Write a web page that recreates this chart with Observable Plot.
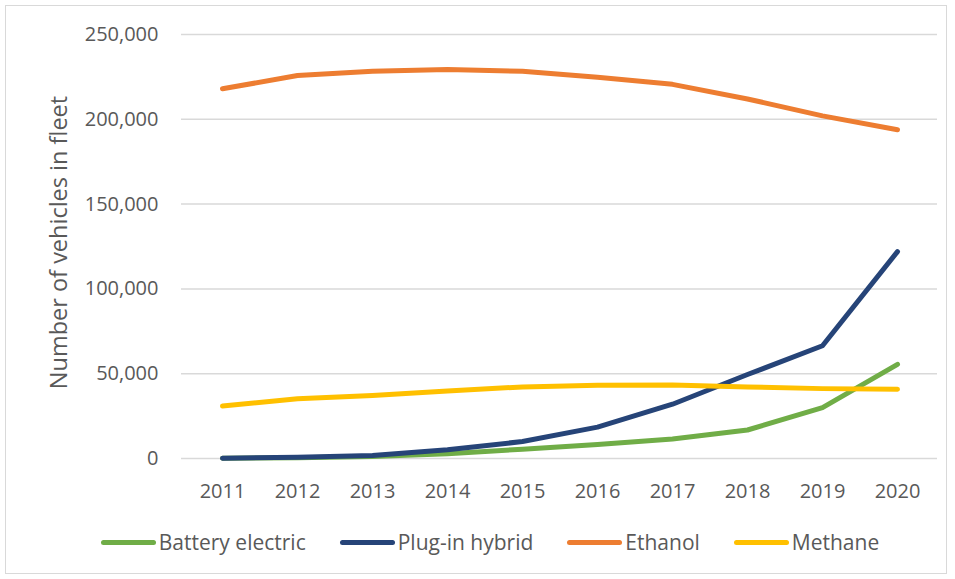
<!DOCTYPE html>
<html>
<head>
<meta charset="utf-8">
<script src="https://cdn.jsdelivr.net/npm/d3@7"></script>
<script src="https://cdn.jsdelivr.net/npm/@observablehq/plot@0.6"></script>
<style>
  html, body { margin: 0; padding: 0; background: #fff; }
  #wrap { position: relative; width: 955px; height: 579px; overflow: hidden; font-family: "Open Sans", sans-serif; }
  #border { position: absolute; left: 5px; top: 5px; width: 942px; height: 569px; border: 1px solid #d9d9d9; box-sizing: border-box; }
  #chart { position: absolute; left: 0; top: 0; }
  #legend { position: absolute; left: 0; top: 528px; width: 955px; display: flex; justify-content: center; padding-left: 25px; box-sizing: border-box; gap: 34px; }
  .item { display: flex; align-items: center; font-size: 21px; color: #595959; }
  .sw { width: 55px; height: 5px; border-radius: 3px; margin-right: 3px; }
</style>
</head>
<body>
<div id="wrap">
  <div id="border"></div>
  <div id="chart"></div>
  <div id="legend"></div>
</div>
<script>
const years = [2011, 2012, 2013, 2014, 2015, 2016, 2017, 2018, 2019, 2020];
const seriesNames = ["Battery electric", "Plug-in hybrid", "Ethanol", "Methane"];
const seriesColors = ["#70AD47", "#264478", "#ED7D31", "#FFC000"];
const batteryElectric = [200, 500, 1200, 2800, 5500, 8300, 11500, 16800, 30000, 55500];
const plugInHybrid = [200, 800, 1800, 5200, 10000, 18500, 32000, 49500, 66500, 122000];
const ethanol = [218000, 225800, 228400, 229300, 228300, 224800, 220600, 212000, 202000, 193800];
const methane = [30900, 35200, 37200, 39800, 42200, 43200, 43300, 42200, 41200, 40800];
const yTicks = [0, 50000, 100000, 150000, 200000, 250000];
const yLabel = "Number of vehicles in fleet";

const valuesBySeries = [batteryElectric, plugInHybrid, ethanol, methane];
const rows = [];
seriesNames.forEach((name, i) => {
  years.forEach((yr, j) => rows.push({series: name, year: yr, value: valuesBySeries[i][j]}));
});

const chart = Plot.plot({
  width: 955,
  height: 510,
  marginLeft: 181,
  marginRight: 18,
  marginTop: 34,
  marginBottom: 52,
  style: {fontFamily: "Open Sans, sans-serif", fontSize: "20px", color: "#595959", background: "transparent"},
  x: {type: "point", domain: years, padding: 0.5},
  y: {domain: [0, 250000], ticks: yTicks},
  color: {domain: seriesNames, range: seriesColors},
  marks: [
    Plot.gridY(yTicks, {stroke: "#d9d9d9", strokeOpacity: 1, strokeWidth: 1.5}),
    Plot.axisY(yTicks, {tickSize: 0, tickPadding: 23, tickFormat: d3.format(","), fill: "#595959", label: null, fontSize: 20}),
    Plot.text([yLabel], {frameAnchor: "left", textAnchor: "middle", lineAnchor: "middle", rotate: -90, dx: -122, dy: -4, fontSize: 23.5, fill: "#595959", text: d => d}),
    Plot.axisX(years, {tickSize: 0, tickPadding: 25, tickFormat: d => String(d), fill: "#595959", label: null, fontSize: 20}),
    Plot.line(rows, {x: "year", y: "value", z: "series", stroke: "series", strokeWidth: 5, strokeLinecap: "round", strokeLinejoin: "round"})
  ]
});
document.getElementById("chart").appendChild(chart);

const legend = document.getElementById("legend");
seriesNames.forEach((name, i) => {
  const it = document.createElement("div");
  it.className = "item";
  const sw = document.createElement("div");
  sw.className = "sw";
  sw.style.background = seriesColors[i];
  const tx = document.createElement("span");
  tx.textContent = name;
  it.appendChild(sw);
  it.appendChild(tx);
  legend.appendChild(it);
});
</script>
</body>
</html>
